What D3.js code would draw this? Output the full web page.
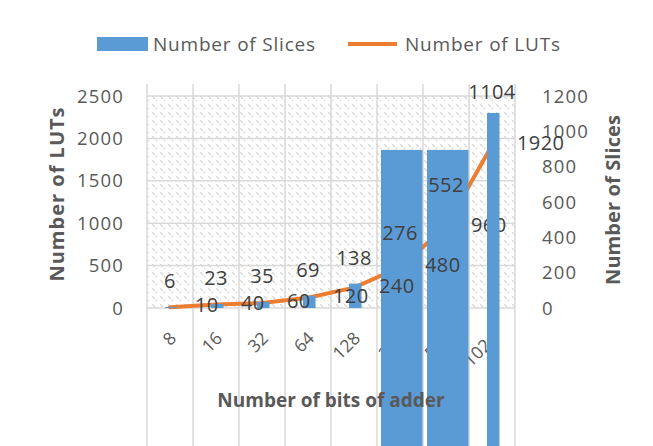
<!DOCTYPE html>
<html>
<head>
<meta charset="utf-8">
<script src="https://cdnjs.cloudflare.com/ajax/libs/d3/7.8.5/d3.min.js"></script>
<style>
    body { margin: 0; background: #fff; }
    svg { display: block; font-family: "Open Sans", "Liberation Sans", sans-serif; }
</style>
</head>
<body>
<div id="chart-area"></div>
<script>

// chart data
var categories = ["8", "16", "32", "64", "128", "256", "512", "1024"];
var slices = [6, 23, 35, 69, 138, 276, 552, 1104];
var luts = [10, 40, 60, 120, 240, 480, 960, 1920];
// where the bars actually stop in the picture (slices units), two of them are cut off
var barTops = [6, 23, 35, 69, 138, 895, 895, 1104];

var lutTicks = [0, 500, 1000, 1500, 2000, 2500];
var sliceTicks = [0, 200, 400, 600, 800, 1000, 1200];


ComboChart = function(_parentElement){
    this.parentElement = _parentElement;
    this.initVis();
}

/*
 * svg, scales, pattern
 */
ComboChart.prototype.initVis = function(){
    var vis = this;

    vis.width = 653;
    vis.height = 446;

    vis.plot = { left: 147, right: 515, top: 96, bottom: 308 };

    vis.svg = d3.select(vis.parentElement).append("svg")
        .attr("width", vis.width)
        .attr("height", vis.height);

    vis.svg.append("rect")
        .attr("width", vis.width)
        .attr("height", vis.height)
        .attr("fill", "#fff");

    vis.x = d3.scaleBand()
        .domain(categories)
        .range([vis.plot.left, vis.plot.right])
        .padding(0);

    vis.yLeft = d3.scaleLinear()
        .domain([0, 2500])
        .range([vis.plot.bottom, vis.plot.top]);

    vis.yRight = d3.scaleLinear()
        .domain([0, 1200])
        .range([vis.plot.bottom, vis.plot.top]);

    // light grey hatch fill of the plot area
    var pat = vis.svg.append("defs").append("pattern")
        .attr("id", "hatch")
        .attr("patternUnits", "userSpaceOnUse")
        .attr("width", 8)
        .attr("height", 8);
    pat.append("rect").attr("width", 8).attr("height", 8).attr("fill", "#fff");
    pat.append("path")
        .attr("d", "M0,0 L3,3 M4,4 L5,5")
        .attr("stroke", "#d9d9d9")
        .attr("stroke-width", 1.4);

    // (bar list with its index kept, so filtered layers still know their category)
    vis.bars = barTops.map(function(d, i) {
        return { i: i, top: d, value: slices[i] };
    });

    vis.updateVis();
};

/*
 * drawing
 */
ComboChart.prototype.updateVis = function(){
    var vis = this;
    var bw = vis.x.bandwidth();
    var mid = function(d, i) { return vis.x(categories[i]) + bw / 2; };

    vis.svg.append("rect")
        .attr("x", vis.plot.left)
        .attr("y", vis.plot.top)
        .attr("width", vis.plot.right - vis.plot.left)
        .attr("height", vis.plot.bottom - vis.plot.top)
        .attr("fill", "url(#hatch)");

    // horizontal gridlines
    vis.svg.selectAll(".hgrid")
        .data(lutTicks)
        .enter().append("line")
        .attr("class", "hgrid")
        .attr("x1", vis.plot.left)
        .attr("x2", vis.plot.right)
        .attr("y1", function(d) { return vis.yLeft(d); })
        .attr("y2", function(d) { return vis.yLeft(d); })
        .style("stroke", "#d9d9d9")
        .style("stroke-width", 1.5);

    // vertical gridlines run past the plot, down to the bottom edge
    var edges = categories.map(function(c) { return vis.x(c); }).concat([vis.plot.right]);
    vis.svg.selectAll(".vgrid")
        .data(edges)
        .enter().append("line")
        .attr("class", "vgrid")
        .attr("x1", function(d) { return d; })
        .attr("x2", function(d) { return d; })
        .attr("y1", vis.plot.top - 12)
        .attr("y2", vis.height)
        .style("stroke", "#d9d9d9")
        .style("stroke-width", 1.5);

    // left axis ticks
    vis.svg.selectAll(".ltick")
        .data(lutTicks)
        .enter().append("text")
        .attr("class", "ltick")
        .attr("x", 124)
        .attr("y", function(d) { return vis.yLeft(d); })
        .attr("dy", "0.36em")
        .attr("text-anchor", "end")
        .style("font-size", "18.5px")
        .style("letter-spacing", "1.2px")
        .style("fill", "#595959")
        .text(function(d) { return d; });

    // right axis ticks
    vis.svg.selectAll(".rtick")
        .data(sliceTicks)
        .enter().append("text")
        .attr("class", "rtick")
        .attr("x", 542)
        .attr("y", function(d) { return vis.yRight(d); })
        .attr("dy", "0.36em")
        .style("font-size", "18.5px")
        .style("letter-spacing", "1.2px")
        .style("fill", "#595959")
        .text(function(d) { return d; });

    // category labels, rotated
    vis.svg.selectAll(".xtick")
        .data(categories)
        .enter().append("text")
        .attr("class", "xtick")
        .attr("text-anchor", "end")
        .attr("dy", "0.35em")
        .attr("transform", function(d, i) {
            return "translate(" + (mid(d, i) + 3) + ",335) rotate(-45)";
        })
        .style("font-size", "17.5px")
        .style("fill", "#595959")
        .text(function(d) { return d; });

    // LUT line
    var line = d3.line()
        .x(function(d, i) { return mid(d, i); })
        .y(function(d) { return vis.yLeft(d); });

    vis.svg.append("path")
        .datum(luts)
        .attr("d", line)
        .style("fill", "none")
        .style("stroke", "#ED7D31")
        .style("stroke-width", 4)
        .style("stroke-linecap", "round")
        .style("stroke-linejoin", "round");

    // slice bars; clipped ones are drawn full width, the tall ones run off the bottom
    var clipped = function(b) { return b.top !== b.value; };
    var drawBars = function(sel) {
        sel.attr("x", function(b) {
                return clipped(b) ? vis.x(categories[b.i]) + 4 : mid(b, b.i) - 5;
            })
            .attr("width", function(b) { return clipped(b) ? bw - 4.5 : 12.5; })
            .attr("y", function(b) { return vis.yRight(b.top); })
            .attr("height", function(b) {
                var bottom = b.value > 200 ? vis.height : vis.yRight(0);
                return bottom - vis.yRight(b.top);
            })
            .style("fill", "#5B9BD5");
    };

    vis.svg.selectAll(".bar")
        .data(vis.bars.filter(function(b) { return b.value <= 1000; }))
        .enter().append("rect")
        .attr("class", "bar")
        .call(drawBars);

    // data labels
    vis.svg.selectAll(".slabel")
        .data(slices)
        .enter().append("text")
        .attr("class", "slabel")
        .attr("x", mid)
        .attr("y", function(d) { return Math.max(vis.yRight(d) - 26, 92); })
        .attr("dy", "0.36em")
        .attr("text-anchor", "middle")
        .style("font-size", "20px")
        .style("letter-spacing", "0.4px")
        .style("fill", "#404040")
        .text(function(d) { return d; });

    vis.svg.selectAll(".llabel")
        .data(luts)
        .enter().append("text")
        .attr("class", "llabel")
        .attr("x", function(d, i) { return mid(d, i) + 25; })
        .attr("y", function(d) { return vis.yLeft(d) - 2; })
        .attr("dy", "0.36em")
        .style("font-size", "20px")
        .style("letter-spacing", "0.4px")
        .style("fill", "#404040")
        .text(function(d) { return d; });

    // the tallest bar sits over its neighbour's label
    vis.svg.selectAll(".bartop")
        .data(vis.bars.filter(function(b) { return b.value > 1000; }))
        .enter().append("rect")
        .attr("class", "bartop")
        .call(drawBars);

    // axis titles
    vis.svg.append("text")
        .attr("transform", "translate(57,194) rotate(-90)")
        .attr("text-anchor", "middle")
        .attr("dy", "0.36em")
        .style("font-size", "20px")
        .style("letter-spacing", "1px")
        .style("font-weight", "bold")
        .style("fill", "#595959")
        .text("Number of LUTs");

    vis.svg.append("text")
        .attr("transform", "translate(613,200) rotate(-90)")
        .attr("text-anchor", "middle")
        .attr("dy", "0.36em")
        .style("font-size", "20px")
        .style("letter-spacing", "0.1px")
        .style("font-weight", "bold")
        .style("fill", "#595959")
        .text("Number of Slices");

    vis.svg.append("text")
        .attr("x", 331)
        .attr("y", 400)
        .attr("text-anchor", "middle")
        .attr("dy", "0.36em")
        .style("font-size", "19px")
        .style("font-weight", "bold")
        .style("fill", "#595959")
        .text("Number of bits of adder");

    // legend
    var legend = vis.svg.append("g");
    legend.append("rect")
        .attr("x", 97).attr("y", 37)
        .attr("width", 51).attr("height", 14)
        .style("fill", "#5B9BD5");
    legend.append("text")
        .attr("x", 153).attr("y", 44)
        .attr("dy", "0.36em")
        .style("font-size", "19px")
        .style("letter-spacing", "0.8px")
        .style("fill", "#595959")
        .text("Number of Slices");
    legend.append("line")
        .attr("x1", 348).attr("x2", 397)
        .attr("y1", 44).attr("y2", 44)
        .style("stroke", "#ED7D31")
        .style("stroke-width", 4);
    legend.append("text")
        .attr("x", 405).attr("y", 44)
        .attr("dy", "0.36em")
        .style("font-size", "19px")
        .style("letter-spacing", "0.8px")
        .style("fill", "#595959")
        .text("Number of LUTs");
};

var chart = new ComboChart("#chart-area");

</script>
</body>
</html>
